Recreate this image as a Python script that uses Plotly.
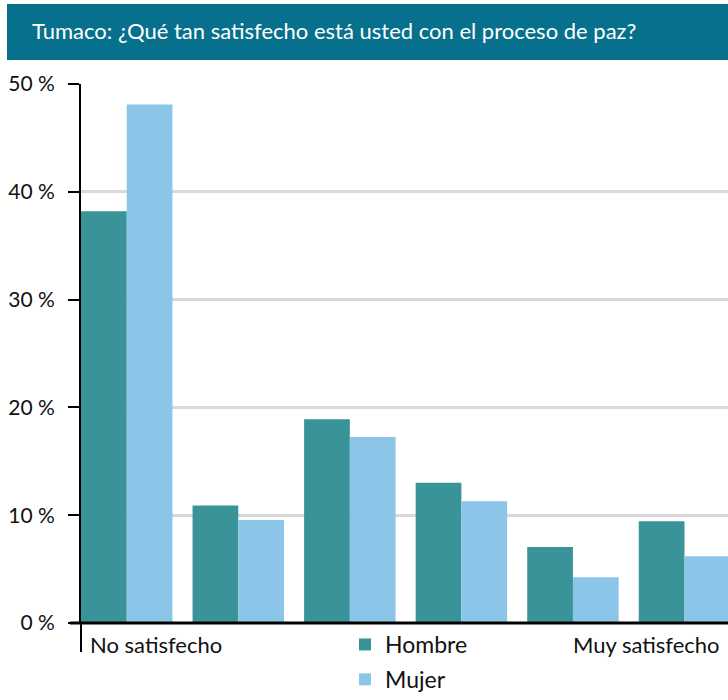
import plotly.graph_objects as go

categorias = ["No satisfecho", "2", "3", "4", "5", "Muy satisfecho"]
hombre = [38.2, 10.9, 18.9, 13.0, 7.05, 9.45]
mujer = [48.1, 9.55, 17.25, 11.3, 4.25, 6.2]
y_ticks = [0, 10, 20, 30, 40, 50]
y_labels = ["0 %", "10 %", "20 %", "30 %", "40 %", "50 %"]

x = list(range(len(categorias)))
fuente = "Lato, 'DejaVu Sans', sans-serif"

fig = go.Figure()
fig.add_trace(go.Bar(x=x, y=hombre, name="Hombre", marker_color="#3a9399",
                     marker_line_width=0, legendgroup="h"))
fig.add_trace(go.Bar(x=x, y=mujer, name="Mujer", marker_color="#8bc5e7",
                     marker_line_width=0, legendgroup="m"))

fig.update_layout(
    width=728, height=700,
    margin=dict(l=81, r=0, t=84, b=77),
    paper_bgcolor="white", plot_bgcolor="white",
    barmode="group", bargap=0.18, bargroupgap=0,
    font=dict(family=fuente, size=21, color="#111111"),
    showlegend=True,
    legend=dict(x=(345-81)/647, xanchor="left",
                y=77/700, yref="container", yanchor="top",
                font=dict(size=23), tracegroupgap=2,
                bgcolor="rgba(0,0,0,0)"),
    xaxis=dict(range=[-0.41, 5.39], showticklabels=False, showgrid=False,
               zeroline=False, showline=False, fixedrange=True),
    yaxis=dict(range=[0, 50], tickvals=y_ticks, ticktext=y_labels,
               showgrid=True, gridcolor="#d9d9d9", gridwidth=3,
               showline=True, linecolor="black", linewidth=2,
               ticks="outside", ticklen=11, tickwidth=2, tickcolor="black",
               zeroline=False, tickfont=dict(size=21), ticklabelstandoff=9,
               automargin=False),
)

# barra de título
fig.add_shape(type="rect", xref="paper", yref="paper",
              x0=-74/647, x1=1.0, y0=(623-60)/539, y1=(623-4)/539,
              fillcolor="#07708c", line_width=0, layer="above")
fig.add_annotation(text="Tumaco: ¿Qué tan satisfecho está usted con el proceso de paz?",
                   xref="paper", yref="paper", x=-51/647, y=(623-30)/539,
                   xanchor="left", yanchor="middle", showarrow=False,
                   font=dict(color="white", size=22))

# extremos del eje x
fig.add_annotation(text=categorias[0], xref="paper", yref="paper",
                   x=0, xshift=7, y=0, yshift=-6, xanchor="left", yanchor="top",
                   showarrow=False, font=dict(size=22))
fig.add_annotation(text=categorias[-1], xref="paper", yref="paper",
                   x=1, xshift=-6, y=0, yshift=-6, xanchor="right", yanchor="top",
                   showarrow=False, font=dict(size=22))

# prolongación del eje y bajo el cero y línea base
fig.add_shape(type="line", xref="paper", yref="paper", x0=0, x1=0,
              y0=0, y1=-29/539, line=dict(color="black", width=2))
fig.add_shape(type="line", xref="paper", yref="paper", x0=-11/647, x1=1,
              y0=0, y1=0, line=dict(color="black", width=3))

fig.write_html("out.html", config={"displayModeBar": False},
               post_script="document.body.style.margin='0';")
